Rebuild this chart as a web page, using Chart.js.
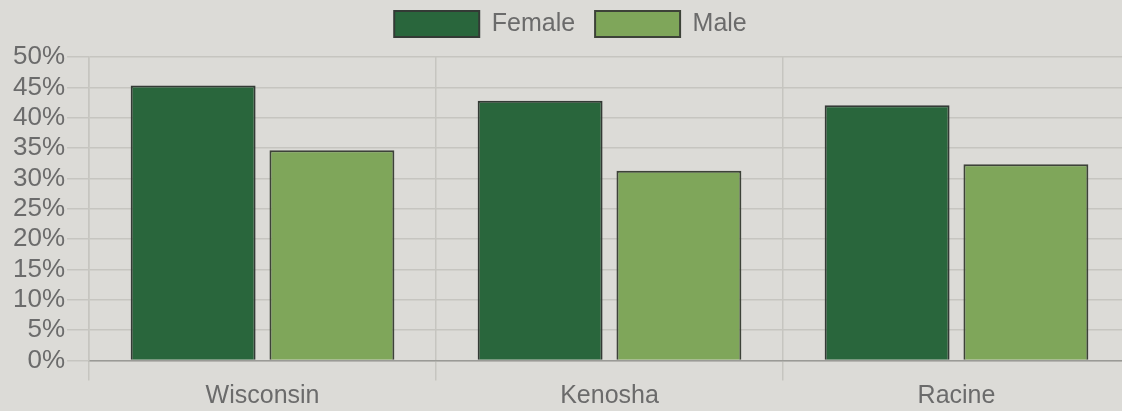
<!DOCTYPE html>
<html>
<head>
<meta charset="utf-8">
<script src="https://cdn.jsdelivr.net/npm/chart.js@4/dist/chart.umd.min.js"></script>
<style>
  html, body { margin: 0; padding: 0; background: #dcdbd7; overflow: hidden; width: 1122px; height: 411px; }
  canvas { display: block; }
</style>
</head>
<body>
<canvas id="chart" width="1130" height="411"></canvas>
<script>
const categories = ["Wisconsin", "Kenosha", "Racine"];
const female = [45.3, 42.8, 42.05];
const male = [34.65, 31.25, 32.35];
const yTicks = [0, 5, 10, 15, 20, 25, 30, 35, 40, 45, 50];

Chart.defaults.font.family = "'Liberation Sans', Arial, sans-serif";
Chart.defaults.color = '#6b6b6b';

// a little more room under the legend
const legendGap = {
  id: 'legendGap',
  beforeInit(chart) {
    const fit = chart.legend.fit;
    chart.legend.fit = function () {
      fit.call(this);
      this.height += 10;
    };
  }
};

new Chart(document.getElementById("chart"), {
  type: 'bar',
  data: {
    labels: categories,
    datasets: [{
      label: 'Female',
      data: female,
      backgroundColor: '#29663c',
      borderColor: '#333a35',
      borderWidth: 2,
      categoryPercentage: 0.8,
      barPercentage: 0.9
    }, {
      label: 'Male',
      data: male,
      backgroundColor: '#7fa65a',
      borderColor: '#3d4238',
      borderWidth: 2,
      categoryPercentage: 0.8,
      barPercentage: 0.9
    }]
  },
  options: {
    responsive: false,
    animation: false,
    layout: { padding: { left: 11, right: 0, top: -9, bottom: 0 } },
    plugins: {
      legend: {
        position: 'top',
        labels: {
          boxWidth: 85,
          boxHeight: 26,
          padding: 20,
          color: '#6b6b6b',
          font: { size: 25 }
        }
      },
      tooltip: { enabled: false }
    },
    scales: {
      x: {
        grid: { color: '#c6c5c0', lineWidth: 1.5, tickLength: 20 },
        border: { color: '#9a9a96', width: 1.5 },
        ticks: { font: { size: 25, lineHeight: 1.1 }, padding: 1.5 }
      },
      y: {
        min: 0,
        max: 50,
        afterBuildTicks: axis => { axis.ticks = yTicks.map(v => ({ value: v })); },
        grid: { color: '#c6c5c0', lineWidth: 1.5, tickLength: 22 },
        border: { color: '#c6c5c0', width: 1.5 },
        ticks: { font: { size: 26, lineHeight: 1.0 }, padding: 2, autoSkip: false, callback: v => v + '%' }
      }
    }
  },
  plugins: [legendGap]
});
</script>
</body>
</html>
